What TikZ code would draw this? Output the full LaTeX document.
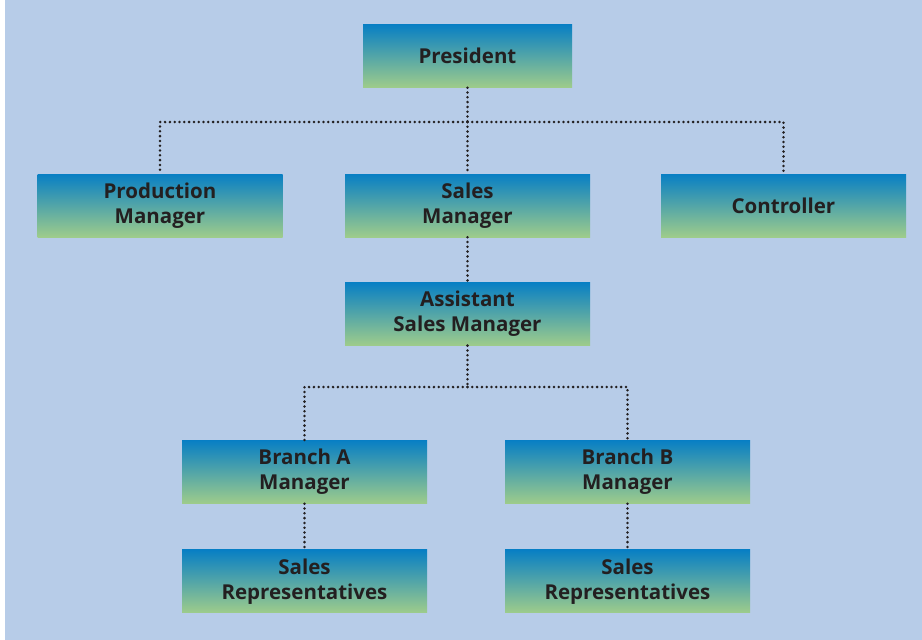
\documentclass[tikz,border=0pt]{standalone}
\usepackage{fontspec}
\setmainfont{Open Sans}
\usepackage{xcolor}
\usepackage{tikz}
\usetikzlibrary{positioning}
\definecolor{bgblue}{RGB}{183,204,232}
\definecolor{boxtop}{RGB}{8,127,196}
\definecolor{boxbottom}{RGB}{158,204,139}
\definecolor{textdark}{RGB}{35,31,32}

\begin{document}
\begin{tikzpicture}[
            x=1pt, y=-1pt,
            comp/.style={rectangle, top color=boxtop, bottom color=boxbottom,
                        inner sep=0pt, minimum width=245pt, minimum height=63pt,
                        font=\fontsize{20.5}{25}\selectfont\bfseries, text=textdark, align=center},
            link/.style={draw=textdark, line width=2.8pt, line cap=round,
                        dash pattern=on 0pt off 4.8pt}
        ]
            \useasboundingbox (0,0) rectangle (922,640);
            \fill[bgblue] (5,0) rectangle (922,640);

            % top level
            \node[comp, minimum width=209pt] (president) at (467.5,56) {President};

            % managers
            \node[comp] (sales) at (467.5,205.5) {Sales\\Manager};
            \node[comp] (production) at (160,205.5) {Production\\Manager};
            \node[comp] (controller) at (783.5,205.5) {Controller};

            \node[comp, below=45pt of sales] (assistant) {Assistant\\Sales Manager};

            % branches
            \node[comp] (brancha) at (304.5,472) {Branch A\\Manager};
            \node[comp] (branchb) at (627.5,472) {Branch B\\Manager};

            \node[comp, below=46pt of brancha] (repsa) {Sales\\Representatives};
            \node[comp, below=46pt of branchb] (repsb) {Sales\\Representatives};

            % connectors
            \coordinate (split1) at (467.5,122);
            \coordinate (split2) at (467.5,387);
            \draw[link] (president.south) -- (split1);
            \draw[link] (split1) -| (production.north);
            \draw[link] (split1) -| (controller.north);
            \draw[link] (split1) -- (sales.north);
            \draw[link] (sales.south) -- (assistant.north);
            \draw[link] (assistant.south) -- (split2);
            \draw[link] (split2) -| (brancha.north);
            \draw[link] (split2) -| (branchb.north);
            \draw[link] (brancha.south) -- (repsa.north);
            \draw[link] (branchb.south) -- (repsb.north);
        \end{tikzpicture}
\end{document}
